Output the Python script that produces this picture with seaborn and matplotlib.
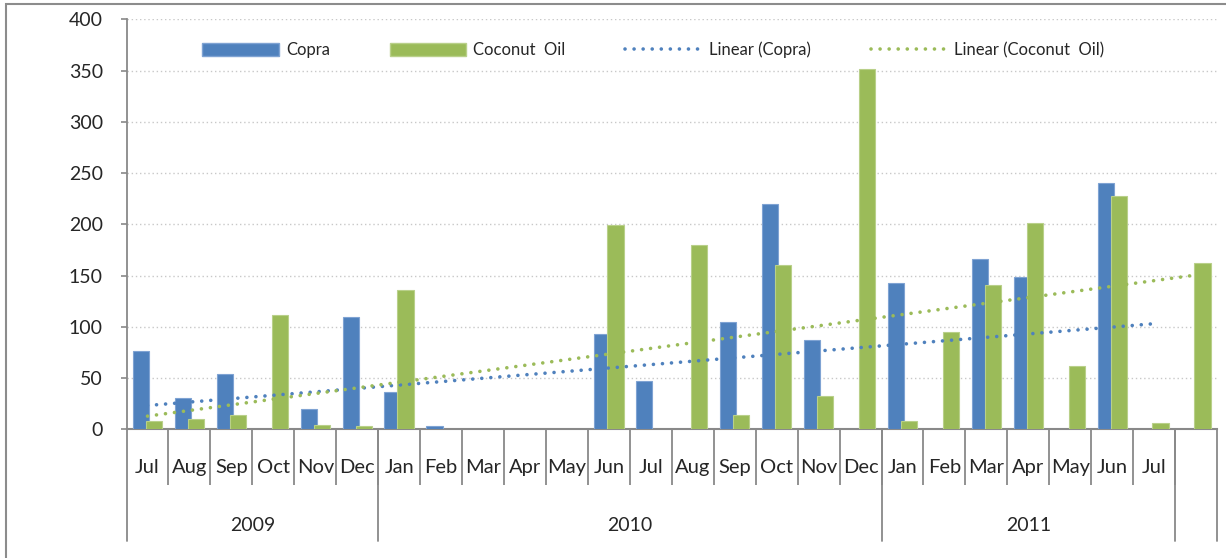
import numpy as np
import pandas as pd
import seaborn as sns
import matplotlib.pyplot as plt
from matplotlib.patches import Patch, Rectangle
from matplotlib.lines import Line2D

months = ['Jul', 'Aug', 'Sep', 'Oct', 'Nov', 'Dec',
          'Jan', 'Feb', 'Mar', 'Apr', 'May', 'Jun', 'Jul', 'Aug', 'Sep', 'Oct', 'Nov', 'Dec',
          'Jan', 'Feb', 'Mar', 'Apr', 'May', 'Jun', 'Jul', '']
years = ['2009', '2010', '2011', '']
year_sizes = [6, 12, 7, 1]

copra = [77, 31, 54, 0, 20, 110,
         37, 3, 0, 0, 0, 93, 47, 0, 105, 220, 87, 0,
         143, 0, 166, 149, 0, 240, 0]
coconut_oil = [8, 10, 14, 112, 4, 3,
               136, 0, 0, 0, 0, 199, 0, 180, 14, 160, 33, 352,
               8, 95, 141, 201, 62, 228, 6, 162]

blue = '#4F81BD'
green = '#9BBB59'
axis_grey = '#898989'
dots = (0, (0.01, 2.5))

sns.set_style('white')
plt.rcParams['font.family'] = ['Lato', 'DejaVu Sans']

fig = plt.figure(figsize=(12.26, 5.58), dpi=100)
ax = fig.add_axes([0.1032, 0.2303, 0.8895, 0.7351])

# bars (blank months are not drawn)
df_c = pd.DataFrame({'x': np.arange(len(copra)) - 0.155, 'y': copra})
df_c = df_c[df_c['y'] > 0]
df_o = pd.DataFrame({'x': np.arange(len(coconut_oil)) + 0.155, 'y': coconut_oil})
df_o = df_o[df_o['y'] > 0]

sns.barplot(data=df_c, x='x', y='y', native_scale=True, width=0.39, color=blue,
            saturation=1, edgecolor='#7FA3D3', linewidth=0.8, errorbar=None, ax=ax, zorder=3)
sns.barplot(data=df_o, x='x', y='y', native_scale=True, width=0.39, color=green,
            saturation=1, edgecolor='#B9D08A', linewidth=0.8, errorbar=None, ax=ax, zorder=3)

# linear trendlines, as Excel fits them on 1..n
for vals, col in [(copra, blue), (coconut_oil, green)]:
    xs = np.arange(len(vals))
    k, b = np.polyfit(xs, vals, 1)
    sns.lineplot(x=xs, y=k * xs + b, color=col, linewidth=2.6,
                 linestyle=dots, dash_capstyle='round', ax=ax, zorder=4)

ax.set_xlim(-0.5, len(months) - 0.5)
ax.set_ylim(0, 400)
ax.set_yticks(np.arange(0, 401, 50))
ax.yaxis.grid(True, color='#C8C8C8', linestyle=(0, (1, 2)), linewidth=1.0)
ax.set_axisbelow(True)
ax.set_xlabel('')
ax.set_ylabel('')

for side in ['top', 'right']:
    ax.spines[side].set_visible(False)
ax.spines['left'].set_color(axis_grey)
ax.spines['bottom'].set_color(axis_grey)
ax.spines['left'].set_linewidth(1.3)
ax.spines['bottom'].set_linewidth(1.5)

ax.tick_params(axis='y', direction='out', length=4, width=1.2, color=axis_grey,
               pad=13, labelsize=14, left=True)

# multi-level category axis
ax.set_xticks([])
ax.set_xticks(np.arange(0.5, len(months) - 1, 1), minor=True)
ax.tick_params(axis='x', which='minor', direction='out', length=40, width=1.3,
               color=axis_grey, bottom=True)
bounds = np.concatenate([[-0.5], np.cumsum(year_sizes) - 0.5])
for xb in bounds:
    ax.axvline(xb, ymin=-0.2718, ymax=0, color=axis_grey, linewidth=1.3, clip_on=False)
for i, m in enumerate(months):
    ax.text(i, -0.106, m, transform=ax.get_xaxis_transform(), ha='center',
            va='baseline', fontsize=14.5)
for j, yr in enumerate(years):
    xc = (bounds[j] + bounds[j + 1]) / 2
    ax.text(xc, -0.2467, yr, transform=ax.get_xaxis_transform(), ha='center',
            va='baseline', fontsize=14)

handles = [Patch(facecolor=blue, edgecolor='#7FA3D3'),
           Patch(facecolor=green, edgecolor='#B9D08A'),
           Line2D([], [], color=blue, linewidth=2.6, linestyle=dots, dash_capstyle='round'),
           Line2D([], [], color=green, linewidth=2.6, linestyle=dots, dash_capstyle='round')]
labels = ['Copra', 'Coconut  Oil', 'Linear (Copra)', 'Linear (Coconut  Oil)']
ax.legend(handles, labels, loc='center', bbox_to_anchor=(0.483, 0.925), ncol=4,
          frameon=False, fontsize=12, handlelength=4.6, handleheight=0.85,
          handletextpad=0.4, columnspacing=3.6)

fig.patches.append(Rectangle((0.0045, -0.05), 1.2, 1.0437, transform=fig.transFigure,
                             fill=False, edgecolor='#8C8C8C', linewidth=1.5))

fig.savefig('out.png', dpi=100)
